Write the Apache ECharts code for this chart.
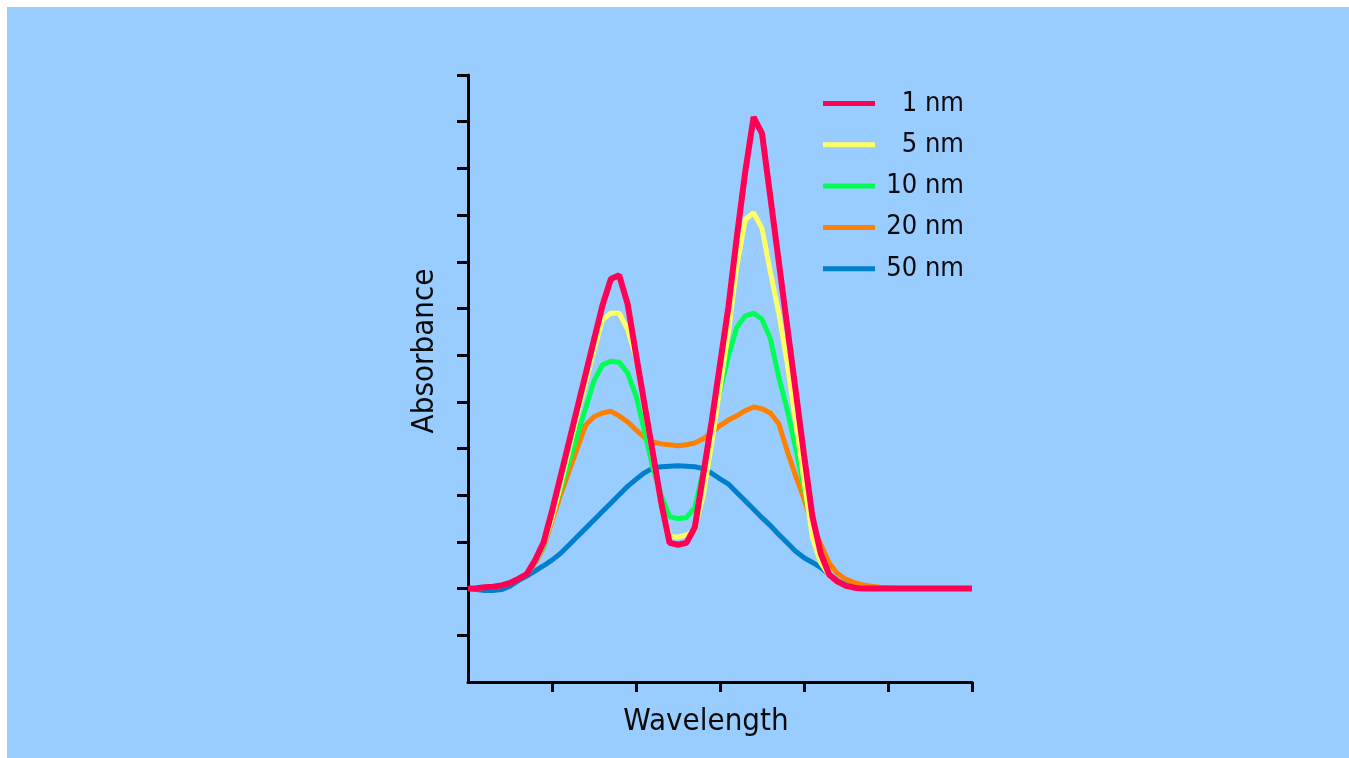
<!DOCTYPE html>
<html>
<head>
<meta charset="utf-8">
<title>Absorbance vs wavelength at different slit widths</title>
<script src="https://cdn.jsdelivr.net/npm/echarts@6/dist/echarts.min.js"></script>
<style>
  html, body { margin: 0; padding: 0; background: #ffffff; }
  #chart { width: 1349px; height: 758px; }
</style>
</head>
<body>
<div id="chart"></div>
<script>
// Wavelength positions (arbitrary units along the axis)
const wavelength = [
  0, 1, 2, 3, 4, 5, 6, 7, 8, 9,
  10, 11, 12, 13, 14, 15, 16, 17, 18, 19,
  20, 21, 22, 23, 24, 25, 26, 27, 28, 29,
  30, 31, 32, 33, 34, 35, 36, 37, 38, 39,
  40, 41, 42, 43, 44, 45, 46, 47, 48, 49,
  50, 51, 52, 53, 54, 55, 56, 57, 58, 59, 60
];

// Absorbance recorded with each spectral bandwidth
const bw1nm = [
  0, 0.01, 0.03, 0.04, 0.07, 0.12, 0.21, 0.31, 0.61, 0.99,
  1.66, 2.39, 3.12, 3.86, 4.59, 5.33, 6.06, 6.63, 6.71, 6.10,
  5.02, 3.96, 2.91, 1.84, 0.98, 0.94, 0.98, 1.31, 2.44, 3.57,
  4.80, 6.03, 7.53, 8.92, 10.1, 9.75, 8.38, 7.00, 5.62, 4.25,
  2.87, 1.55, 0.75, 0.30, 0.15, 0.06, 0.02, 0, 0, 0,
  0, 0, 0, 0, 0, 0, 0, 0, 0, 0, 0
];
const bw5nm = [
  0, 0.01, 0.03, 0.04, 0.07, 0.12, 0.21, 0.31, 0.58, 0.95,
  1.50, 2.20, 2.95, 3.70, 4.40, 5.10, 5.75, 5.90, 5.90, 5.55,
  4.95, 3.90, 2.85, 1.80, 1.12, 1.10, 1.15, 1.25, 2.00, 3.10,
  4.30, 5.50, 6.90, 7.90, 8.05, 7.72, 6.78, 5.90, 4.83, 3.57,
  2.31, 1.10, 0.55, 0.28, 0.15, 0.06, 0.02, 0, 0, 0,
  0, 0, 0, 0, 0, 0, 0, 0, 0, 0, 0
];
const bw10nm = [
  0, 0.01, 0.03, 0.04, 0.07, 0.12, 0.21, 0.31, 0.56, 0.90,
  1.54, 2.12, 2.70, 3.28, 3.86, 4.45, 4.79, 4.87, 4.85, 4.62,
  4.13, 3.38, 2.59, 2.00, 1.54, 1.50, 1.52, 1.73, 2.52, 3.38,
  4.23, 4.98, 5.60, 5.84, 5.90, 5.77, 5.35, 4.53, 3.83, 3.01,
  2.16, 1.24, 0.60, 0.30, 0.16, 0.07, 0.02, 0, 0, 0,
  0, 0, 0, 0, 0, 0, 0, 0, 0, 0, 0
];
const bw20nm = [
  0, 0.01, 0.03, 0.04, 0.07, 0.12, 0.21, 0.31, 0.55, 0.88,
  1.45, 2.00, 2.50, 3.00, 3.50, 3.68, 3.76, 3.80, 3.70, 3.57,
  3.40, 3.24, 3.14, 3.10, 3.08, 3.06, 3.08, 3.12, 3.21, 3.34,
  3.49, 3.61, 3.70, 3.81, 3.89, 3.85, 3.76, 3.53, 2.95, 2.42,
  1.92, 1.37, 0.95, 0.55, 0.32, 0.20, 0.13, 0.08, 0.05, 0.03,
  0.02, 0.01, 0, 0, 0, 0, 0, 0, 0, 0, 0
];
const bw50nm = [
  0, -0.02, -0.04, -0.04, -0.02, 0.05, 0.17, 0.27, 0.38, 0.49,
  0.61, 0.75, 0.93, 1.11, 1.29, 1.47, 1.65, 1.83, 2.01, 2.19,
  2.34, 2.48, 2.58, 2.61, 2.62, 2.63, 2.62, 2.61, 2.57, 2.47,
  2.35, 2.24, 2.06, 1.88, 1.70, 1.52, 1.35, 1.16, 0.98, 0.80,
  0.66, 0.56, 0.45, 0.30, 0.17, 0.09, 0.04, 0.01, 0, 0,
  0, 0, 0, 0, 0, 0, 0, 0, 0, 0, 0
];

const seriesNames = ['1 nm', '5 nm', '10 nm', '20 nm', '50 nm'];
const seriesValues = [bw1nm, bw5nm, bw10nm, bw20nm, bw50nm];
const seriesColors = ['#ff0055', '#ffff66', '#00ff55', '#ff8000', '#0080cc'];
const seriesWidths = [6, 5, 5, 5, 5];

// Tick positions (no labels are shown on either axis)
const xTicks = [10, 20, 30, 40, 50, 60];
const yTicks = [-1, 0, 1, 2, 3, 4, 5, 6, 7, 8, 9, 10, 11];

const textFont = '"DejaVu Sans Condensed", "DejaVu Sans", sans-serif';

const chart = echarts.init(document.getElementById('chart'), null, { renderer: 'canvas' });

// Draw the broadest band first so the 1 nm trace ends up on top
const series = [];
for (let i = seriesNames.length - 1; i >= 0; i--) {
  series.push({
    name: seriesNames[i],
    type: 'line',
    data: wavelength.map((w, k) => [w, seriesValues[i][k]]),
    showSymbol: false,
    symbol: 'none',
    color: seriesColors[i],
    lineStyle: { color: seriesColors[i], width: seriesWidths[i] },
    z: 10 - i
  });
}

chart.setOption({
  animation: false,
  backgroundColor: '#ffffff',
  graphic: [
    {
      type: 'rect',
      z: -100,
      silent: true,
      shape: { x: 7, y: 7, width: 1342, height: 751 },
      style: { fill: '#99ccff' }
    },
    {
      type: 'text',
      z: 100,
      x: 425,
      y: 351,
      rotation: Math.PI / 2,
      style: {
        text: 'Absorbance',
        fontFamily: textFont,
        fontSize: 31,
        fill: '#0a0a0a',
        align: 'center',
        verticalAlign: 'middle'
      }
    },
    {
      type: 'text',
      z: 100,
      x: 706,
      y: 722,
      style: {
        text: 'Wavelength',
        fontFamily: textFont,
        fontSize: 31,
        fill: '#0a0a0a',
        align: 'center',
        verticalAlign: 'middle'
      }
    }
  ],
  grid: { left: 468, top: 75, width: 504, height: 607, containLabel: false },
  legend: {
    data: seriesNames,
    orient: 'vertical',
    left: 823,
    top: 90,
    icon: 'rect',
    itemWidth: 52,
    itemHeight: 5,
    itemGap: 14.3,
    padding: 0,
    formatter: '{t|{name}}',
    textStyle: {
      rich: {
        t: {
          width: 84,
          align: 'right',
          fontSize: 27,
          lineHeight: 30,
          fontFamily: textFont,
          color: '#0a0a0a'
        }
      }
    }
  },
  xAxis: {
    type: 'value',
    min: 0,
    max: 60,
    interval: 10,
    axisLine: { onZero: false, lineStyle: { color: '#000000', width: 3 } },
    axisTick: { show: true, length: 10, customValues: xTicks, lineStyle: { color: '#000000', width: 3 } },
    axisLabel: { show: false },
    splitLine: { show: false }
  },
  yAxis: {
    type: 'value',
    min: -2,
    max: 11,
    interval: 1,
    axisLine: { show: true, onZero: false, lineStyle: { color: '#000000', width: 3 } },
    axisTick: { show: true, length: 11, customValues: yTicks, lineStyle: { color: '#000000', width: 3 } },
    axisLabel: { show: false },
    splitLine: { show: false }
  },
  series: series
});
</script>
</body>
</html>
